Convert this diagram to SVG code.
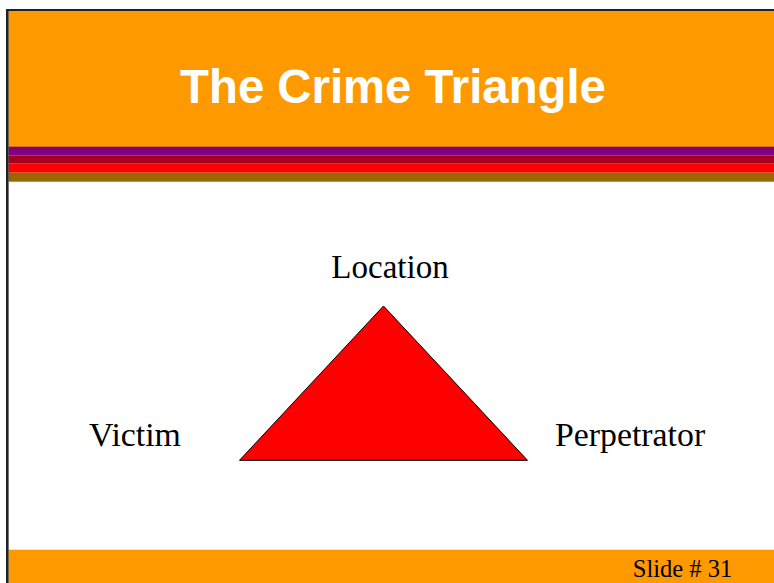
<svg xmlns="http://www.w3.org/2000/svg" width="774" height="583" viewBox="0 0 774 583">
<style>
.lbl{font-family:"Liberation Serif","Times New Roman",serif;font-size:33px;fill:#000}
.lbl2{font-family:"Liberation Serif","Times New Roman",serif;font-size:33.8px;fill:#000}
.title{font-family:"Liberation Sans",Arial,sans-serif;font-size:47.3px;font-weight:bold;fill:#fff}
</style>
<rect x="0" y="0" width="774" height="583" fill="#fff"/>
<g id="header">
<rect x="8.5" y="11" width="766" height="136" fill="#FF9900"/>
<rect x="8.5" y="146.7" width="766" height="9" fill="#800080"/>
<rect x="8.5" y="155.7" width="766" height="8" fill="#A50021"/>
<rect x="8.5" y="163.7" width="766" height="9" fill="#FF0000"/>
<rect x="8.5" y="172.7" width="766" height="9" fill="#996600"/>
<text class="title" x="393" y="103.3" text-anchor="middle">The Crime Triangle</text>
</g>
<g id="footer">
<rect x="8.5" y="549.7" width="766" height="34" fill="#FF9900"/>
<text x="682.5" y="577" text-anchor="middle" font-family="'Liberation Serif','Times New Roman',serif" font-size="24.5" fill="#000">Slide # 31</text>
</g>
<g id="border" fill="#222">
<rect x="6" y="9" width="769" height="2"/>
<rect x="6" y="9" width="2.6" height="575"/>
</g>
<g id="triangle">
<polygon points="383.5,306 239.5,460.3 527.5,460.3" fill="#FF0000" stroke="#000" stroke-width="1"/>
</g>
<g id="location"><text class="lbl" x="390" y="277.5" text-anchor="middle">Location</text></g>
<g id="victim"><text class="lbl2" x="89" y="445.7">Victim</text></g>
<g id="perpetrator"><text class="lbl2" x="555" y="445.7">Perpetrator</text></g>
<g id="connectors"></g>
</svg>
